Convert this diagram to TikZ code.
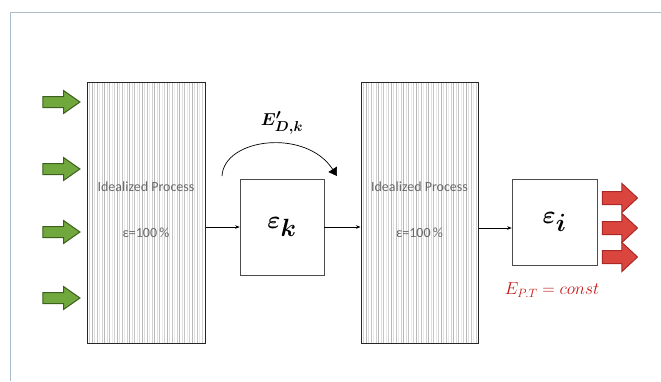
\documentclass[tikz,border=0pt]{standalone}
\usepackage{amsmath,bm}
\usepackage{fontspec}
\setmainfont{Carlito}
\usetikzlibrary{shapes.arrows,arrows.meta,calc}

\definecolor{framec}{RGB}{172,188,200}
\definecolor{txtgray}{RGB}{105,105,105}
\definecolor{greenfill}{RGB}{112,168,62}
\definecolor{greenline}{RGB}{62,96,30}
\definecolor{redfill}{RGB}{218,70,62}
\definecolor{redline}{RGB}{170,40,40}
\definecolor{redtext}{RGB}{196,20,20}

\tikzset{
  procbox/.style={draw=black!85, line width=1pt, minimum width=118, minimum height=261,
    inner sep=0pt,
    path picture={
      \foreach \i in {1,...,46}{
        \pgfmathsetmacro\g{mod(\i*7,5)*5+8}
        \draw[black!\g, line width=0.5pt]
          ($(path picture bounding box.north west)+(\i*2.5,0)$) --
          ($(path picture bounding box.south west)+(\i*2.5,0)$);
      }}},
  effbox/.style={draw=black!70, line width=0.6pt, fill=white, inner sep=0pt},
  proctext/.style={text=txtgray, font=\fontsize{14}{16}\selectfont},
  flow/.style={draw=black, line width=0.6pt, -{Stealth[length=4.5pt,width=3.5pt]}},
  inarrow/.style={single arrow, draw=greenline, fill=greenfill, line width=1pt,
    minimum height=37, minimum width=0pt, inner xsep=0pt, inner ysep=5pt,
    single arrow head extend=6, single arrow tip angle=70},
  outarrow/.style={single arrow, draw=redline, fill=redfill, line width=1pt,
    minimum height=35, minimum width=0pt, inner xsep=0pt, inner ysep=6pt,
    single arrow head extend=8, single arrow tip angle=86},
}

\begin{document}
\begin{tikzpicture}[x=1pt,y=-1pt]
  % canvas and frame
  \useasboundingbox (0,0) rectangle (661,381);
  \fill[white] (0,0) rectangle (661,381);
  \draw[framec, line width=1pt] (10,381) -- (10,12) -- (661,12);

  % idealized process blocks
  \node[procbox] (p1) at (146,212.5) {};
  \node[procbox, minimum width=117] (p2) at (419.5,212.5) {};
  \node[proctext] (p1a) at (146,187) {Idealized Process};
  \node[proctext] (p1b) at (146,233) {ε=100\,\%};
  \node[proctext] (p2a) at (419.5,187) {Idealized Process};
  \node[proctext] (p2b) at (419.5,233) {ε=100\,\%};

  % efficiency blocks
  \node[effbox, minimum width=84, minimum height=96] (k) at (282,227)
    {\fontsize{35}{40}\selectfont$\bm{\varepsilon_k}$};
  \node[effbox, minimum width=85, minimum height=86] (i) at (554.5,222)
    {\fontsize{35}{40}\selectfont$\bm{\varepsilon_i}$};

  % flow connectors
  \draw[flow] (p1.east |- 0,227) -- (k.west |- 0,227);
  \draw[flow] (k.east |- 0,227) -- (p2.west |- 0,227);
  \draw[flow] (p2.east |- 0,228) -- (i.west |- 0,228);

  % bypass energy
  \coordinate (bs) at (222,176);
  \coordinate (be) at (337,176);
  \draw[line width=0.7pt, -{Triangle[length=8pt,width=10pt]}]
    (bs) .. controls (224,138) and (306,128) .. (be);
  \node (ed) at (282,123) {\fontsize{19}{22}\selectfont$\bm{E'_{D,k}}$};

  \node[text=redtext] (ept) at (552,290)
    {\fontsize{16.5}{19}\selectfont$E_{P.T}=const$};

  % inputs
  \node[inarrow] (g1) at (57.5,102) {};
  \node[inarrow] (g2) at (57.5,169) {};
  \node[inarrow] (g3) at (57.5,232) {};
  \node[inarrow] (g4) at (57.5,298) {};

  % outputs
  \node[outarrow] (r1) at (616.5,198) {};
  \node[outarrow] (r2) at (616.5,228) {};
  \node[outarrow] (r3) at (616.5,257) {};
\end{tikzpicture}
\end{document}
